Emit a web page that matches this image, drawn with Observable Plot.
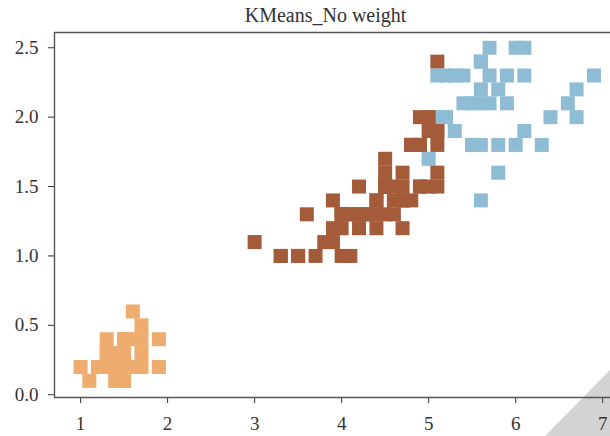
<!DOCTYPE html>
<html>
<head>
<meta charset="utf-8">
<script src="https://cdn.jsdelivr.net/npm/d3@7"></script>
<script src="https://cdn.jsdelivr.net/npm/@observablehq/plot@0.6"></script>
<style>
  html, body { margin: 0; padding: 0; background: white; }
  #wrap { position: relative; width: 610px; height: 436px; overflow: hidden; }
  #corner { position: absolute; left: 545px; top: 370px; width: 65px; height: 66px;
            background: #d3d3d3; clip-path: polygon(100% 0, 100% 100%, 0 100%); }
  #chart { position: absolute; left: 0; top: 0; }
</style>
</head>
<body>
<div id="wrap"><div id="corner"></div><div id="chart"></div></div>
<script>
const title = "KMeans_No weight";

// Iris petal length (x) and petal width (y), in dataset order
const petalLength = [
  1.4,1.4,1.3,1.5,1.4,1.7,1.4,1.5,1.4,1.5,
  1.5,1.6,1.4,1.1,1.2,1.5,1.3,1.4,1.7,1.5,
  1.7,1.5,1.0,1.7,1.9,1.6,1.6,1.5,1.4,1.6,
  1.6,1.5,1.5,1.4,1.5,1.2,1.3,1.4,1.3,1.5,
  1.3,1.3,1.3,1.6,1.9,1.4,1.6,1.4,1.5,1.4,
  4.7,4.5,4.9,4.0,4.6,4.5,4.7,3.3,4.6,3.9,
  3.5,4.2,4.0,4.7,3.6,4.4,4.5,4.1,4.5,3.9,
  4.8,4.0,4.9,4.7,4.3,4.4,4.8,5.0,4.5,3.5,
  3.8,3.7,3.9,5.1,4.5,4.5,4.7,4.4,4.1,4.0,
  4.4,4.6,4.0,3.3,4.2,4.2,4.2,4.3,3.0,4.1,
  6.0,5.1,5.9,5.6,5.8,6.6,4.5,6.3,5.8,6.1,
  5.1,5.3,5.5,5.0,5.1,5.3,5.5,6.7,6.9,5.0,
  5.7,4.9,6.7,4.9,5.7,6.0,4.8,4.9,5.6,5.8,
  6.1,6.4,5.6,5.1,5.6,6.1,5.6,5.5,4.8,5.4,
  5.6,5.1,5.1,5.9,5.7,5.2,5.0,5.2,5.4,5.1
];
const petalWidth = [
  0.2,0.2,0.2,0.2,0.2,0.4,0.3,0.2,0.2,0.1,
  0.2,0.2,0.1,0.1,0.2,0.4,0.4,0.3,0.3,0.3,
  0.2,0.4,0.2,0.5,0.2,0.2,0.4,0.2,0.2,0.2,
  0.2,0.4,0.1,0.2,0.2,0.2,0.2,0.1,0.2,0.2,
  0.3,0.3,0.2,0.6,0.4,0.3,0.2,0.2,0.2,0.2,
  1.4,1.5,1.5,1.3,1.5,1.3,1.6,1.0,1.3,1.4,
  1.0,1.5,1.0,1.4,1.3,1.4,1.5,1.0,1.5,1.1,
  1.8,1.3,1.5,1.2,1.3,1.4,1.4,1.7,1.5,1.0,
  1.1,1.0,1.2,1.6,1.5,1.6,1.5,1.3,1.3,1.3,
  1.2,1.4,1.2,1.0,1.3,1.2,1.3,1.3,1.1,1.3,
  2.5,1.9,2.1,1.8,2.2,2.1,1.7,1.8,1.8,2.5,
  2.0,1.9,2.1,2.0,2.4,2.3,1.8,2.2,2.3,1.5,
  2.3,2.0,2.0,1.8,2.1,1.8,1.8,1.8,2.1,1.6,
  1.9,2.0,2.2,1.5,1.4,2.3,2.4,1.8,1.8,2.1,
  2.4,2.3,1.9,2.3,2.5,2.3,1.9,2.0,2.3,1.8
];
// KMeans cluster assignment for each point
const cluster = [
  0,0,0,0,0,0,0,0,0,0,
  0,0,0,0,0,0,0,0,0,0,
  0,0,0,0,0,0,0,0,0,0,
  0,0,0,0,0,0,0,0,0,0,
  0,0,0,0,0,0,0,0,0,0,
  1,1,1,1,1,1,1,1,1,1,
  1,1,1,1,1,1,1,1,1,1,
  1,1,1,1,1,1,1,2,1,1,
  1,1,1,1,1,1,1,1,1,1,
  1,1,1,1,1,1,1,1,1,1,
  2,1,2,2,2,2,1,2,2,2,
  2,2,2,1,1,2,2,2,2,1,
  2,1,2,1,2,2,1,1,2,2,
  2,2,2,1,2,2,2,2,1,2,
  2,2,1,2,2,2,1,2,2,1
];
const clusterIds = [0, 1, 2];
const clusterColors = ["#efac6f", "#a45b3a", "#8fbcd5"];

const xTicks = [1, 2, 3, 4, 5, 6, 7];
const yTicks = [0.0, 0.5, 1.0, 1.5, 2.0, 2.5];
const xDomain = [0.70, 7.09];
const yDomain = [-0.02, 2.61];

const data = petalLength.map((x, i) => ({x, y: petalWidth[i], c: cluster[i]}));

const frameColor = "#555";

const chart = Plot.plot({
  width: 610,
  height: 436,
  marginLeft: 54,
  marginRight: 0,
  marginTop: 32,
  marginBottom: 39,
  style: {
    fontFamily: "'Liberation Serif', 'DejaVu Serif', serif",
    fontSize: "19px",
    color: "#333",
    background: "transparent"
  },
  x: {domain: xDomain, ticks: xTicks, tickFormat: "d", tickSize: 6, tickPadding: 13, label: null},
  y: {domain: yDomain, ticks: yTicks, tickFormat: ".1f", tickSize: 6, tickPadding: 10, label: null},
  color: {domain: clusterIds, range: clusterColors},
  marks: [
    Plot.dot(data, {x: "x", y: "y", fill: "c", symbol: "square", r: 7.9}),
    Plot.ruleX([xDomain[0]], {stroke: frameColor, strokeWidth: 1.4}),
    Plot.ruleY(yDomain, {stroke: frameColor, strokeWidth: 1.4}),
    Plot.text([title], {frameAnchor: "top", dx: -7, dy: -17, lineAnchor: "middle",
                        fontSize: 20, fill: "#333"})
  ]
});
document.getElementById("chart").appendChild(chart);
</script>
</body>
</html>
